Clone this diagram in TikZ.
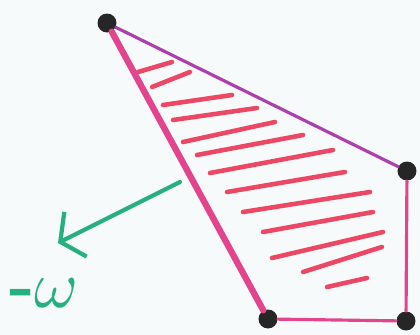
\documentclass[tikz,border=0pt]{standalone}
\usetikzlibrary{arrows.meta}
\definecolor{edgepink}{RGB}{226,68,142}
\definecolor{edgepurple}{RGB}{172,64,172}
\definecolor{hatchred}{RGB}{236,72,102}
\definecolor{omegagreen}{RGB}{38,176,128}
\definecolor{paper}{RGB}{246,250,250}
\begin{document}
\begin{tikzpicture}[x=0.02cm, y=-0.02cm, line cap=round,
    dot/.style={circle, fill=black!85, inner sep=0pt, minimum size=0.38cm},
    hatch/.style={hatchred, line width=2.6pt}]
    % Paper
    \useasboundingbox (0,0) rectangle (420,335);
    \fill[paper] (0,0) rectangle (420,335);

    % Hatching inside the face
    \foreach \ax/\ay/\bx/\by in {138/72/172/62, 152/87/190/72, 163/105/232/95,
        173/120/257/108, 183/142/275/122, 197/155/303/135, 210/173/333/150,
        227/192/345/172, 243/212/370/192, 263/232/373/212, 272/258/383/232,
        303/272/382/247, 327/287/367/278}
        \draw[hatch] (\ax,\ay) -- (\bx,\by);

    % Corners
    \node[dot] (top) at (107,23) {};
    \node[dot] (right) at (407,171) {};
    \node[dot] (lowright) at (406,321) {};
    \node[dot] (bottom) at (268,319) {};

    % Sides
    \draw[edgepink, line width=3.6pt] (top) -- (bottom);
    \draw[edgepurple, line width=1.8pt] (top) -- (right);
    \draw[edgepink, line width=1.8pt] (right) -- (lowright);
    \draw[edgepink, line width=1.8pt] (lowright) -- (bottom);

    % Normal and label
    \coordinate (foot) at (180,182);
    \coordinate (tip) at (58,243);
    \draw[omegagreen, line width=2.4pt,
        -{Straight Barb[length=0.34cm, width=1cm, line width=2.4pt]}] (foot) -- (tip);
    \node[omegagreen, scale=3.8, inner sep=0pt] (omega) at (44,293) {\textbf{-}$\omega$};
\end{tikzpicture}
\end{document}
